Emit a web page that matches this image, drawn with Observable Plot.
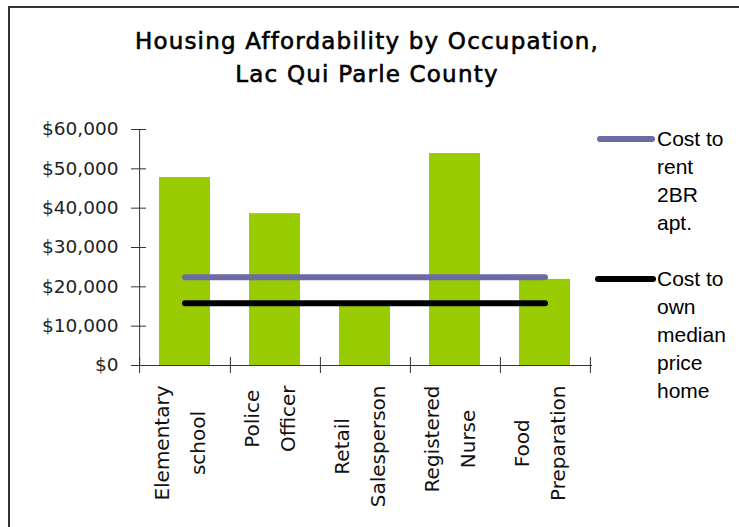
<!DOCTYPE html>
<html><head><meta charset="utf-8">
<script src="https://cdn.jsdelivr.net/npm/d3@7"></script>
<script src="https://cdn.jsdelivr.net/npm/@observablehq/plot@0.6"></script>
<style>
html,body{margin:0;padding:0;background:#fff;}
#wrap{position:relative;width:739px;height:527px;overflow:hidden;background:#fff;}
#chart{position:absolute;left:0;top:0;}
#border{position:absolute;left:8px;top:6px;width:800px;height:600px;border-top:2px solid #333;border-left:2px solid #333;}
#title{position:absolute;left:0;top:25px;width:734px;text-align:center;font-family:"DejaVu Sans",sans-serif;font-weight:normal;font-size:23px;letter-spacing:1.2px;-webkit-text-stroke:0.6px #000;line-height:33px;color:#000;}
.legtext{position:absolute;font-family:"Liberation Sans",Arial,sans-serif;font-size:21px;line-height:28px;color:#000;white-space:pre;}
.sw{position:absolute;height:6px;border-radius:3px;}
</style></head>
<body>
<div id="wrap"><div id="chart"></div><div id="border"></div><div id="title"></div><div id="legend"></div></div>
<script>
// ---- data ----
const categories = ["Elementary\nschool", "Police\nOfficer", "Retail\nSalesperson", "Registered\nNurse", "Food\nPreparation"];
const salaries = [47800, 38600, 15300, 53900, 21900];
const rentCost = [22450, 22450, 22450, 22450, 22450];
const ownCost = [15850, 15850, 15850, 15850, 15850];
const yTicks = [0, 10000, 20000, 30000, 40000, 50000, 60000];
const titleLines = ["Housing Affordability by Occupation,", "Lac Qui Parle County"];
const seriesNames = ["Cost to\nrent\n2BR\napt.", "Cost to\nown\nmedian\nprice\nhome"];
const seriesColors = ["#6B6BA3", "#000000"];
const barColor = "#99CC00";

// ---- layout ----
const W = 739, H = 527, mL = 138, mR = 147, mT = 129, mB = 162;
const padInner = 0.43;
const step = (W - mL - mR) / categories.length;
const bw = step * (1 - padInner);

const rows = categories.map((c, i) => ({occ: c, salary: salaries[i], rent: rentCost[i], own: ownCost[i]}));

const ctx = document.createElement("canvas").getContext("2d");
ctx.font = "20px 'DejaVu Sans'";
const labelMarks = categories.map(c => {
  const maxW = d3.max(c.split("\n"), s => ctx.measureText(s).width);
  return Plot.text([c], {x: d => d, frameAnchor: "bottom", rotate: -90, textAnchor: "middle",
    lineHeight: 1.8, dx: bw / 2 - 5.5, dy: 20 + maxW / 2, fontSize: 20, fill: "#111"});
});

const chart = Plot.plot({
  width: W, height: H,
  marginLeft: mL, marginRight: mR, marginTop: mT, marginBottom: mB,
  style: {fontFamily: "'DejaVu Sans', sans-serif", background: "none", color: "#222"},
  x: {type: "band", domain: categories, paddingInner: padInner, paddingOuter: padInner / 2, label: null},
  y: {domain: [0, d3.max(yTicks)], label: null},
  marks: [
    Plot.barY(rows, {x: "occ", y: "salary", fill: barColor}),
    Plot.lineY(rows, {x: "occ", y: "rent", stroke: seriesColors[0], strokeWidth: 6, strokeLinecap: "round"}),
    Plot.lineY(rows, {x: "occ", y: "own", stroke: seriesColors[1], strokeWidth: 6, strokeLinecap: "round"}),
    Plot.ruleX([categories[0]], {x: d => d, dx: -step / 2, y1: 0, y2: d3.max(yTicks), stroke: "#333"}),
    Plot.ruleY([0], {insetLeft: -7, stroke: "#333"}),
    Plot.axisY({ticks: yTicks, tickSize: 0, tickPadding: 20, tickFormat: d => "$" + d3.format(",")(d), fontSize: 18.5, fill: "#222", label: null}),
    Plot.axisY({ticks: yTicks, tickSize: 15, dx: 8, tickFormat: () => "", stroke: "#333", label: null}),
    Plot.axisX({ticks: categories, tickSize: 16, dy: -8, dx: step / 2, tickFormat: () => "", stroke: "#333", label: null}),
    Plot.axisX({ticks: [categories[0]], tickSize: 16, dy: -8, dx: -step / 2, tickFormat: () => "", stroke: "#333", label: null}),
    ...labelMarks
  ]
});
document.getElementById("chart").appendChild(chart);

document.getElementById("title").innerHTML = titleLines.join("<br>");

const leg = document.getElementById("legend");
seriesNames.forEach((name, i) => {
  const top = 125.4 + i * 140;
  const sw = document.createElement("div");
  sw.className = "sw";
  sw.style.left = (i === 0 ? 597 : 595) + "px";
  sw.style.width = (i === 0 ? 58 : 61) + "px";
  sw.style.top = (top + 10.6) + "px";
  sw.style.background = seriesColors[i];
  leg.appendChild(sw);
  const t = document.createElement("div");
  t.className = "legtext";
  t.style.left = "657px";
  t.style.top = top + "px";
  t.textContent = name;
  leg.appendChild(t);
});
</script>
</body></html>
